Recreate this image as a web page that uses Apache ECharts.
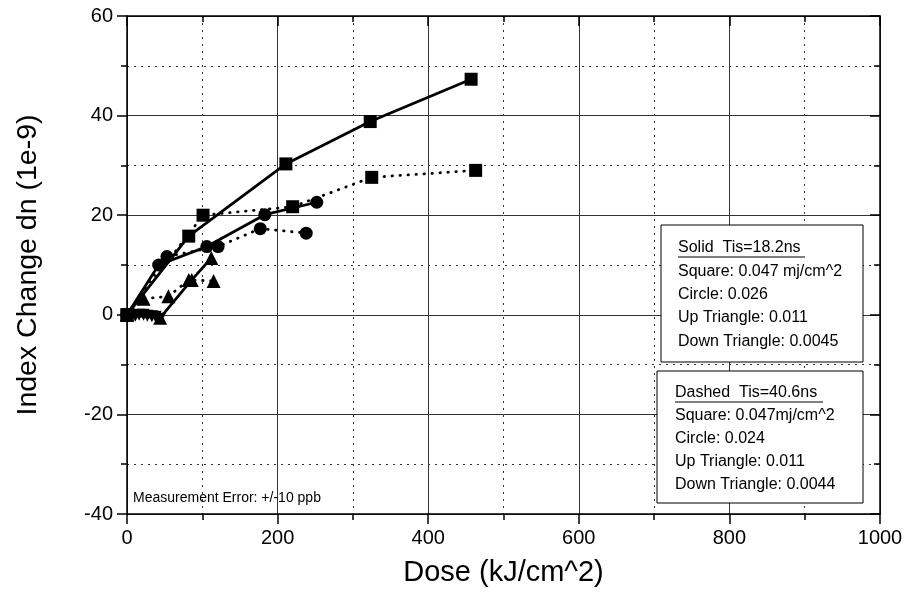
<!DOCTYPE html>
<html><head><meta charset="utf-8">
<script src="https://cdn.jsdelivr.net/npm/echarts@6/dist/echarts.min.js"></script>
<style>html,body{margin:0;padding:0;background:#fff}#c{width:906px;height:602px}</style>
</head><body><div id="c"></div>
<script>
// ---- data ----
const sqSolidX = [0, 82, 211, 323, 457];
const sqSolidY = [0, 15.8, 30.3, 38.8, 47.3];
const sqDashX  = [0, 101, 220, 325, 463];
const sqDashY  = [0, 20.0, 21.7, 27.6, 29.0];
const ciSolidX = [0, 42, 106, 183, 252];
const ciSolidY = [0, 10.0, 13.7, 20.1, 22.6];
const ciDashX  = [0, 53, 121, 177, 238];
const ciDashY  = [0, 11.7, 13.7, 17.3, 16.4];
const upSolidX = [0, 44, 86, 112];
const upSolidY = [0, -0.6, 7.0, 11.4];
const upDashX  = [0, 22, 55, 82, 115];
const upDashY  = [0, 3.2, 3.7, 7.0, 6.8];
const dnSolidX = [0, 11, 22, 33, 44];
const dnSolidY = [0, -0.2, 0, -0.3, -0.8];
const dnDashX  = [0, 6, 16, 27, 38];
const dnDashY  = [0, -0.1, 0, -0.2, -0.4];

const xName = 'Dose (kJ/cm^2)';
const yName = 'Index Change dn (1e-9)';
const box1Lines = ['Solid  Tis=18.2ns', 'Square: 0.047 mj/cm^2', 'Circle: 0.026', 'Up Triangle: 0.011', 'Down Triangle: 0.0045'];
const box2Lines = ['Dashed  Tis=40.6ns', 'Square: 0.047mj/cm^2', 'Circle: 0.024', 'Up Triangle: 0.011', 'Down Triangle: 0.0044'];
const noteText = 'Measurement Error: +/-10 ppb';

const FONT = "'Liberation Sans', Arial, sans-serif";

function mk(xs, ys, symbol, size, dashed, rotate) {
  return {
    type: 'line',
    data: xs.map((x, i) => [x, ys[i]]),
    symbol: symbol, symbolSize: size, symbolRotate: rotate || 0,
    showSymbol: true,
    itemStyle: { color: '#000' },
    lineStyle: { color: '#000', width: 2.8, type: dashed ? [0.5, 7.5] : 'solid', cap: 'round' },
    animation: false, z: 3
  };
}

function boxGraphics(x, y, w, h, lines, tx, ty, dy, ulWidth) {
  const els = [{
    type: 'rect', shape: { x: x, y: y, width: w, height: h },
    style: { fill: '#fff', stroke: '#000', lineWidth: 1 }, z: 10
  }];
  lines.forEach((t, i) => {
    els.push({
      type: 'text', z: 11,
      style: { x: tx, y: ty + i * dy, text: t, fontSize: 16, fontFamily: FONT, fill: '#000',
               align: 'left', verticalAlign: 'middle', textAlign: 'left', textVerticalAlign: 'middle' }
    });
  });
  els.push({ type: 'line', z: 11, shape: { x1: tx, y1: ty + 9, x2: tx + ulWidth, y2: ty + 9 },
             style: { stroke: '#000', lineWidth: 1.2 } });
  return els;
}

const chart = echarts.init(document.getElementById('c'), null, { renderer: 'canvas' });
const axisLineStyle = { color: '#000', width: 1.5 };
const plain = v => String(v);
chart.setOption({
  backgroundColor: '#fff',
  animation: false,
  grid: { left: 127, right: 26, top: 16, bottom: 88, containLabel: false },
  xAxis: [{
    type: 'value', position: 'bottom', min: 0, max: 1000, interval: 200,
    axisLine: { show: true, onZero: false, lineStyle: axisLineStyle },
    axisTick: { show: true, length: 10, lineStyle: axisLineStyle },
    minorTick: { show: true, splitNumber: 2, length: 6, lineStyle: axisLineStyle },
    splitLine: { show: true, lineStyle: { color: '#333', width: 1 } },
    minorSplitLine: { show: true, lineStyle: { color: '#333', width: 1, type: [2, 5] } },
    axisLabel: { fontSize: 20, color: '#000', fontFamily: FONT, margin: 14, formatter: plain },
    name: xName, nameLocation: 'middle', nameGap: 44,
    nameTextStyle: { fontSize: 29, color: '#000', fontFamily: FONT }
  }, {
    type: 'value', position: 'top', min: 0, max: 1000, interval: 200,
    axisLine: { show: true, onZero: false, lineStyle: axisLineStyle },
    axisTick: { show: true, inside: true, length: 10, lineStyle: axisLineStyle },
    minorTick: { show: true, splitNumber: 2, length: 6, lineStyle: axisLineStyle },
    splitLine: { show: false }, axisLabel: { show: false }
  }],
  yAxis: [{
    type: 'value', position: 'left', min: -40, max: 60, interval: 20,
    axisLine: { show: true, onZero: false, lineStyle: axisLineStyle },
    axisTick: { show: true, length: 10, lineStyle: axisLineStyle },
    minorTick: { show: true, splitNumber: 2, length: 6, lineStyle: axisLineStyle },
    splitLine: { show: true, lineStyle: { color: '#333', width: 1 } },
    minorSplitLine: { show: true, lineStyle: { color: '#333', width: 1, type: [2, 5] } },
    axisLabel: { fontSize: 20, color: '#000', fontFamily: FONT, margin: 14, formatter: plain },
    name: yName, nameLocation: 'middle', nameGap: 84, nameRotate: 90,
    nameTextStyle: { fontSize: 28.5, color: '#000', fontFamily: FONT }
  }, {
    type: 'value', position: 'right', min: -40, max: 60, interval: 20,
    axisLine: { show: true, onZero: false, lineStyle: axisLineStyle },
    axisTick: { show: true, inside: true, length: 10, lineStyle: axisLineStyle },
    minorTick: { show: true, splitNumber: 2, length: 6, lineStyle: axisLineStyle },
    splitLine: { show: false }, axisLabel: { show: false }
  }],
  series: [
    mk(sqSolidX, sqSolidY, 'rect', 13, false),
    mk(sqDashX, sqDashY, 'rect', 13, true),
    mk(ciSolidX, ciSolidY, 'circle', 13, false),
    mk(ciDashX, ciDashY, 'circle', 13, true),
    mk(upSolidX, upSolidY, 'triangle', 14, false),
    mk(upDashX, upDashY, 'triangle', 14, true),
    mk(dnSolidX, dnSolidY, 'triangle', 12, false, 180),
    mk(dnDashX, dnDashY, 'triangle', 12, true, 180)
  ],
  graphic: [].concat(
    boxGraphics(661, 225, 202, 137, box1Lines, 678, 248, 23.3, 127),
    boxGraphics(657, 371, 206, 132, box2Lines, 675, 393, 23, 148),
    [{ type: 'text', z: 11,
       style: { x: 133, y: 498, text: noteText, fontSize: 14, fontFamily: FONT, fill: '#000',
                align: 'left', verticalAlign: 'middle', textAlign: 'left', textVerticalAlign: 'middle' } }]
  )
});
</script>
</body></html>
